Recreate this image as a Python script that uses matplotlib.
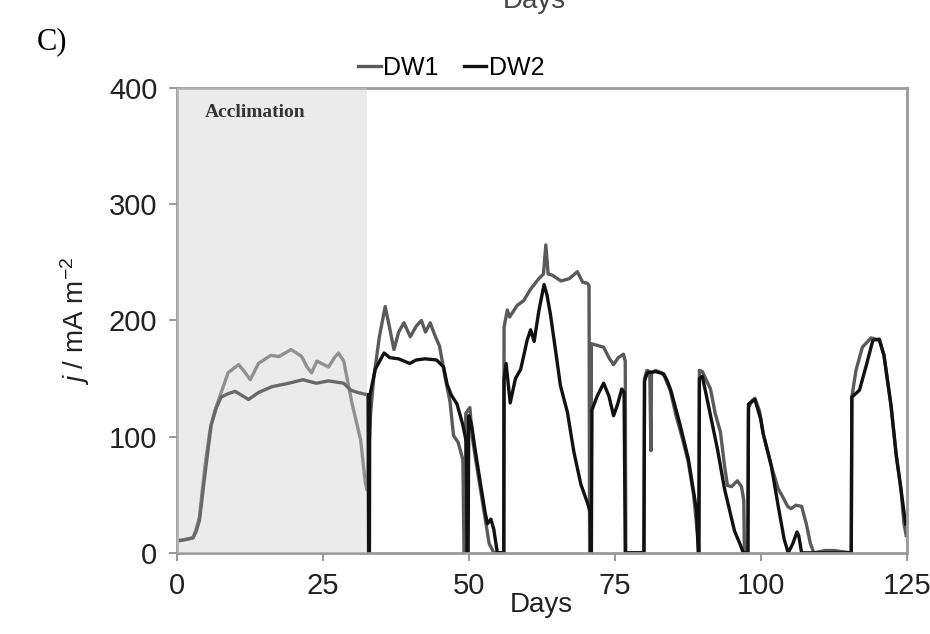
import matplotlib
matplotlib.use("Agg")
import matplotlib.pyplot as plt

plt.rcParams['font.family'] = ['Liberation Sans', 'DejaVu Sans']
plt.rcParams['mathtext.fontset'] = 'custom'
plt.rcParams['mathtext.rm'] = 'Liberation Sans'
plt.rcParams['mathtext.it'] = 'Liberation Sans:italic'

# region data
days_dw1 = [0, 1, 2, 2.8, 3.3, 3.9, 4.4, 4.9, 5.7, 6.5, 7.4, 8.8, 10.6, 11.6, 12.6, 14, 16.1, 17.5,
            19.6, 21.4, 22.3, 23.1, 24, 26, 27, 27.7, 28.6, 30, 31.5, 32.3, 32.6, 33.2, 33.7, 34.7,
            35.7, 36.4, 37.2, 38, 38.9, 40, 41, 41.9, 42.6, 43.4, 44.3, 45, 46, 46.8, 47.4, 48.2,
            49, 49.2, 49.4, 49.5, 50.2, 50.6, 51.2, 52, 52.8, 53.5, 54.3, 56, 56.05, 56.6, 57, 58.3,
            59.4, 60.6, 62, 62.8, 63.2, 63.6, 64.3, 65.8, 67.2, 68.6, 69.5, 70.3, 70.6, 70.7, 70.95,
            71.0, 73.1, 74.0, 74.8, 75.6, 76.5, 76.8, 76.9, 80, 80.1, 80.5, 81, 81.2, 81.3, 82, 83,
            83.5, 84.5, 85.5, 86.5, 87.6, 88.5, 89.3, 89.4, 89.5, 90, 91.4, 92.2, 93.1, 93.8, 94.3,
            95, 96, 96.7, 97.1, 97.2, 97.8, 97.9, 98.5, 99, 99.8, 100.4, 101.8, 103, 104, 104.6,
            105.2, 106, 107, 107.8, 108.5, 109.1, 111, 112.5, 115.5, 115.6, 116.3, 117.4, 118.9,
            120.3, 121.1, 122.3, 123.2, 124, 124.5, 124.9]
j_dw1 = [11, 11, 12, 13, 20, 31, 55, 77, 106, 122, 135, 155, 162, 156, 149, 163, 170, 169,
         175, 169, 160, 155, 165, 160, 168, 172, 165, 129, 97, 60, 54, 120, 149, 186,
         212, 195, 175, 190, 198, 186, 195, 200, 190, 198, 186, 178, 150, 130, 101, 95,
         80, 0, 0, 120, 125, 100, 80, 55, 30, 8, 0, 0, 194, 209, 203, 213,
         217, 227, 236, 240, 265, 240, 239, 234, 236, 242, 233, 232, 230, 0, 0,
         180, 177, 168, 162, 168, 171, 165, 0, 0, 150, 157, 156, 88, 155, 157, 155,
         152, 140, 118, 100, 78, 50, 10, 0, 157, 156, 141, 120, 104, 75, 58,
         57, 62, 57, 45, 0, 0, 125, 131, 133, 122, 103, 75, 55, 46, 40,
         38, 41, 40, 25, 8, 0, 2, 2, 0, 134, 157, 177, 185,
         183, 170, 127, 84, 55, 26, 15]

days_dw2 = [0, 1, 2, 2.8, 3.3, 3.9, 4.9, 5.9, 6.8, 7.6, 8.8, 10, 11, 12.3, 14, 16.3, 19.2, 21.6,
            23.9, 26, 28.6, 29.8, 31, 32.7, 32.85, 33.0, 33.05, 34, 35.5, 36.5, 38, 39.9, 41, 42.5,
            44.5, 45.7, 46.3, 47, 48, 49, 49.6, 49.7, 49.9, 50, 50.5, 51, 52, 52.8, 53.2, 53.8,
            54.3, 54.9, 56, 56.05, 56.4, 57.1, 58, 58.9, 60, 60.6, 61.2, 62, 62.9, 63.4, 64, 64.9,
            65.7, 66.9, 68, 69.2, 70.4, 70.8, 70.9, 71.0, 71.1, 72, 73.1, 74, 74.8, 75.5, 76.2,
            76.6, 76.8, 80, 80.1, 80.6, 82, 83.4, 84, 84.6, 86.2, 87.6, 89, 89.3, 89.4, 89.5, 90,
            91, 92.6, 93.8, 95.5, 96.5, 97, 97.8, 97.9, 99, 100, 100.4, 101.8, 103, 104, 104.7,
            105.5, 106.2, 106.5, 107, 115.5, 115.6, 116.9, 118, 119.2, 120.3, 121.1, 122.3, 123.2,
            124, 124.8]
j_dw2 = [10, 11, 12, 13, 18, 28, 70, 110, 125, 134, 137, 139, 136, 132, 138, 143, 146, 149,
         146, 148, 146, 140, 138, 136, 0, 0, 135, 158, 172, 168, 167, 163, 166, 167,
         166, 160, 145, 136, 128, 110, 95, 0, 0, 118, 110, 92, 60, 35, 25, 29,
         20, 0, 0, 149, 163, 129, 150, 158, 183, 192, 182, 208, 231, 222, 205, 173,
         144, 121, 87, 59, 42, 35, 0, 0, 123, 135, 146, 135, 118, 128, 141,
         138, 0, 0, 148, 155, 156, 154, 148, 140, 110, 81, 37, 0, 0, 150, 152,
         128, 89, 55, 19, 7, 0, 0, 128, 132, 115, 103, 75, 40, 12, 0,
         8, 18, 15, 0, 0, 134, 140, 160, 183, 184, 170, 127, 84,
         55, 25]

acclimation_end = 32.5
x_ticks = [0, 25, 50, 75, 100, 125]
y_ticks = [0, 100, 200, 300, 400]
# endregion

fig = plt.figure(figsize=(9.3, 6.34), dpi=100)
ax = fig.add_axes([0.190, 0.128, 0.785, 0.733])

ax.plot(days_dw1, j_dw1, color='#5a5a5a', lw=2.4, label='DW1', zorder=2)
ax.plot(days_dw2, j_dw2, color='#111111', lw=2.4, label='DW2', zorder=2)

# the grey box sits on top of the curves, so they look lighter under it
ax.axvspan(0, acclimation_end, color='#d4d4d4', alpha=0.45, lw=0, zorder=3)
ax.text(4.8, 379, 'Acclimation', family='Liberation Serif', fontsize=14,
        fontweight='bold', color='#333333', va='center', zorder=4)

ax.set_xlim(0, 125)
ax.set_ylim(0, 400)
ax.set_xticks(x_ticks)
ax.set_yticks(y_ticks)
ax.tick_params(direction='out', length=6, width=1.2, color='#888888',
               labelsize=21, labelcolor='#222222', pad=8)
for s in ax.spines.values():
    s.set_color('#999999')
    s.set_linewidth(2)

ax.set_xlabel('Days', fontsize=20, labelpad=-6, color='#222222')
ax.set_ylabel(r'$j$ / mA m$^{-2}$', fontsize=20, labelpad=12, color='#222222')

fig.legend(loc='center', bbox_to_anchor=(0.485, 0.893), ncol=2, frameon=False,
           fontsize=18, handlelength=0.9, handletextpad=0.1, columnspacing=1.0)

fig.text(0.04, 0.934, 'C)', family='Liberation Serif', fontsize=22, va='center')
# caption of the panel above, cut by the top edge as in the source figure
fig.text(0.575, 0.998, 'Days', fontsize=20, ha='center', va='center', color='#444444')

fig.savefig('out.png', dpi=100)
